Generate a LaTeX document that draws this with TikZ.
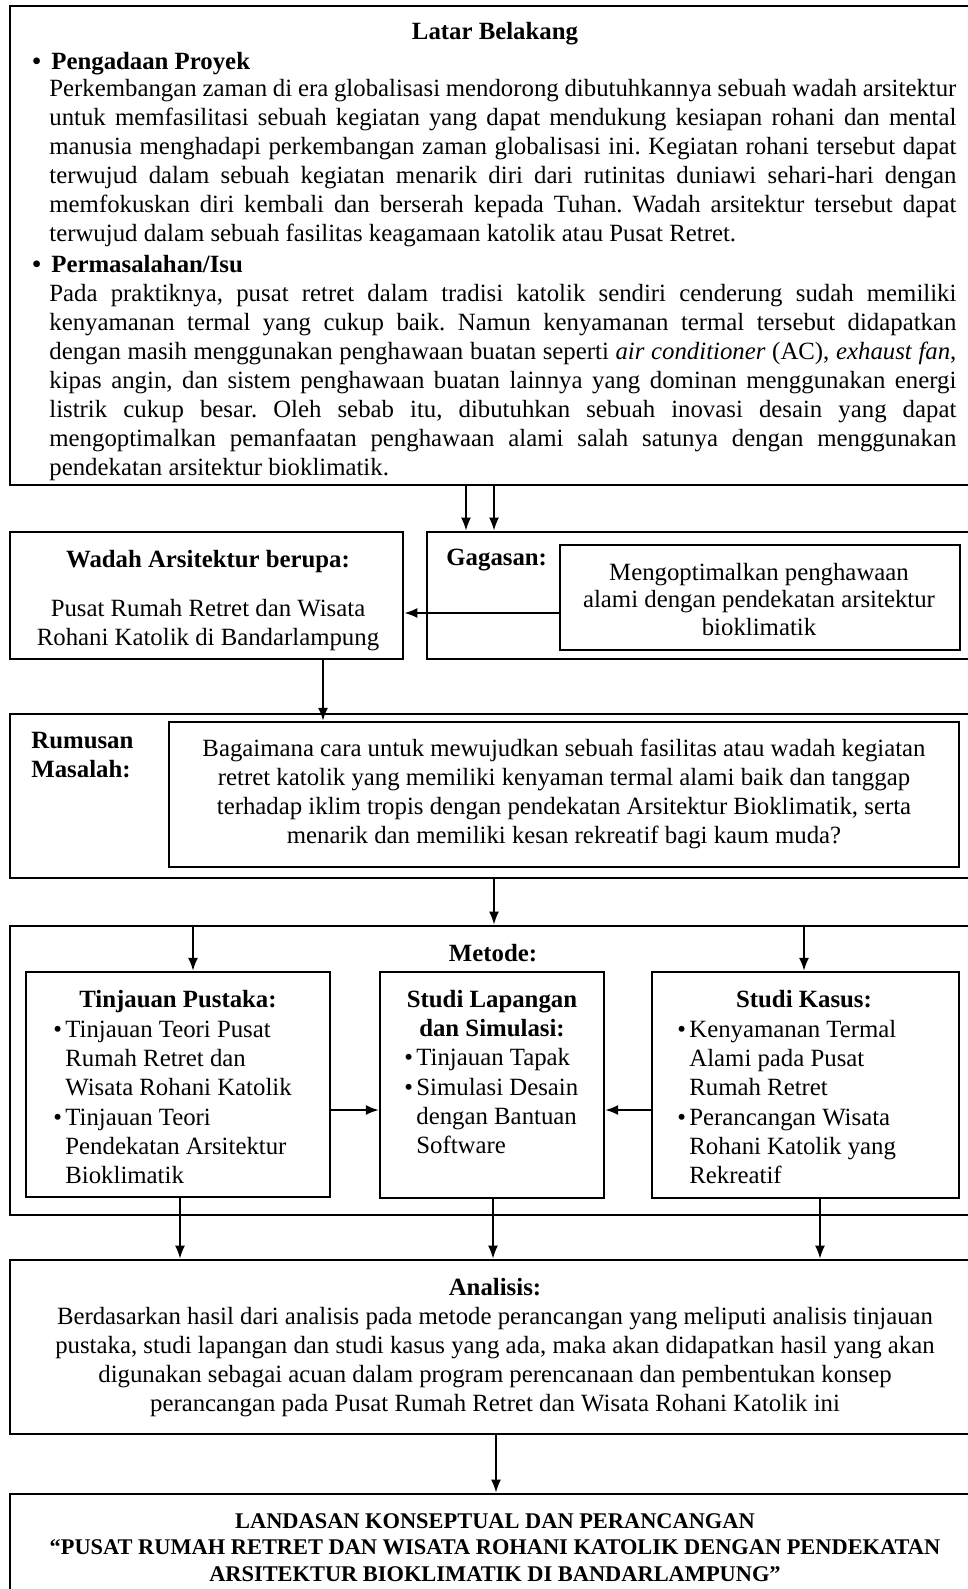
\documentclass[tikz,border=0pt]{standalone}
\usepackage{fontspec}
\setmainfont{Liberation Serif}
\usetikzlibrary{arrows.meta,fit}

% body text: 12.4pt on a 14.5pt baseline
\newcommand\bodysize{\fontsize{12.4}{14.5}\selectfont\frenchspacing}
% one fully justified line of the background paragraphs
\newcommand\jline[1]{{\spaceskip=0.25em plus 0.6em minus 0.15em\xspaceskip=\spaceskip
  \makebox[453.5pt][s]{#1}}}
% bullet with a fixed hanging width
\newcommand\itm[1][6pt]{\makebox[#1][l]{\textbullet}}

\tikzset{
  outerbox/.style={draw, line width=1.3pt, inner sep=0pt},
  innerbox/.style={draw, line width=1.1pt, inner sep=0pt},
  arr/.style={line width=1pt, -{Latex[length=6.5pt,width=5pt]}},
  txt/.style={inner sep=0pt, font=\bodysize},
  head/.style={inner sep=0pt, font=\bodysize\bfseries},
}

\begin{document}
\begin{tikzpicture}[x=0.5pt, y=-0.5pt]
\useasboundingbox (0,0) rectangle (968,1589);
\clip (0,0) rectangle (968,1589);

% ---------------- Latar Belakang ----------------
\node[outerbox, fit={(10,6) (990,485)}] (latar) {};
\node[head, anchor=base] (latarT) at (495,40) {Latar Belakang};
\node[head, anchor=base west] (b1) at (32,70) {\itm[9.5pt]Pengadaan Proyek};
\node[txt, text width=453.5pt, align=flush left, anchor=base west] (p1) at (49,97) {%
\jline{Perkembangan zaman di era globalisasi mendorong dibutuhkannya sebuah wadah arsitektur}\\
\jline{untuk memfasilitasi sebuah kegiatan yang dapat mendukung kesiapan rohani dan mental}\\
\jline{manusia menghadapi perkembangan zaman globalisasi ini. Kegiatan rohani tersebut dapat}\\
\jline{terwujud dalam sebuah kegiatan menarik diri dari rutinitas duniawi sehari-hari dengan}\\
\jline{memfokuskan diri kembali dan berserah kepada Tuhan. Wadah arsitektur tersebut dapat}\\
terwujud dalam sebuah fasilitas keagamaan katolik atau Pusat Retret.};
\node[head, anchor=base west] (b2) at (32,272) {\itm[9.5pt]Permasalahan/Isu};
\node[txt, text width=453.5pt, align=flush left, anchor=base west] (p2) at (49,301) {%
\jline{Pada praktiknya, pusat retret dalam tradisi katolik sendiri cenderung sudah memiliki}\\
\jline{kenyamanan termal yang cukup baik. Namun kenyamanan termal tersebut didapatkan}\\
\jline{dengan masih menggunakan penghawaan buatan seperti \textit{air conditioner} (AC), \textit{exhaust fan},}\\
\jline{kipas angin, dan sistem penghawaan buatan lainnya yang dominan menggunakan energi}\\
\jline{listrik cukup besar. Oleh sebab itu, dibutuhkan sebuah inovasi desain yang dapat}\\
\jline{mengoptimalkan pemanfaatan penghawaan alami salah satunya dengan menggunakan}\\
pendekatan arsitektur bioklimatik.};

% ---------------- Wadah / Gagasan ----------------
\node[outerbox, fit={(10,532) (403,659)}] (wadah) {};
\node[head, anchor=base] (wadahT) at (208,567) {Wadah Arsitektur berupa:};
\node[txt, text width=190pt, align=flush center, anchor=base] (wadahX) at (208,616)
  {Pusat Rumah Retret dan Wisata\\Rohani Katolik di Bandarlampung};

\node[outerbox, fit={(427,532) (990,659)}] (gagasan) {};
\node[head, anchor=base west] (gagasanT) at (446,565) {Gagasan:};
\node[innerbox, fit={(560,545) (960,650)}] (gagIn) {};
\node[txt, font=\fontsize{12.4}{13.9}\selectfont\frenchspacing, text width=195pt, align=flush center, anchor=base] (gagX) at (759,580)
  {Mengoptimalkan penghawaan\\alami dengan pendekatan arsitektur\\bioklimatik};

\coordinate (xa) at (466,0);
\coordinate (xb) at (494,0);
\draw[arr] (xa |- latar.south) -- (xa |- gagasan.north);
\draw[arr] (xb |- latar.south) -- (xb |- gagasan.north);
\coordinate (yg) at (0,613);
\draw[arr] (yg -| gagIn.west) -- (yg -| wadah.east);

% ---------------- Rumusan Masalah ----------------
\node[outerbox, fit={(10,714) (990,878)}] (rumusan) {};
\node[head, text width=70pt, align=flush left, anchor=base west] (rumT) at (31,748) {Rumusan\\Masalah:};
\node[innerbox, fit={(169,722) (959,867)}] (rumIn) {};
\node[txt, text width=390pt, align=flush center, anchor=base] (rumX) at (564,756)
  {Bagaimana cara untuk mewujudkan sebuah fasilitas atau wadah kegiatan\\
   retret katolik yang memiliki kenyaman termal alami baik dan tanggap\\
   terhadap iklim tropis dengan pendekatan Arsitektur Bioklimatik, serta\\
   menarik dan memiliki kesan rekreatif bagi kaum muda?};

\coordinate (xw) at (323,0);
\draw[arr] (xw |- wadah.south) -- (xw |- rumIn.north);

% ---------------- Metode ----------------
\node[outerbox, fit={(10,926) (990,1215)}] (metode) {};
\node[head, anchor=base] (metodeT) at (493,961) {Metode:};
\coordinate (xm) at (494,0);
\draw[arr] (xm |- rumusan.south) -- (xm |- metode.north);

\node[innerbox, fit={(26,972) (330,1197)}] (tp) {};
\node[innerbox, fit={(380,972) (604,1198)}] (sl) {};
\node[innerbox, fit={(652,972) (959,1198)}] (sk) {};

\node[head, anchor=base] (tpT) at (178,1007) {Tinjauan Pustaka:};
\node[txt, text width=140pt, align=flush left, anchor=base west] (tpX) at (53,1037)
  {\itm Tinjauan Teori Pusat\\
   \hspace*{6pt}Rumah Retret dan\\
   \hspace*{6pt}Wisata Rohani Katolik\\[0.6pt]
   \itm Tinjauan Teori\\
   \hspace*{6pt}Pendekatan Arsitektur\\
   \hspace*{6pt}Bioklimatik};

\node[head, text width=110pt, align=flush center, anchor=base] (slT) at (492,1007)
  {Studi Lapangan\\dan Simulasi:};
\node[txt, text width=105pt, align=flush left, anchor=base west] (slX) at (404,1065)
  {\itm Tinjauan Tapak\\[0.8pt]
   \itm Simulasi Desain\\
   \hspace*{6pt}dengan Bantuan\\
   \hspace*{6pt}Software};

\node[head, anchor=base] (skT) at (804,1007) {Studi Kasus:};
\node[txt, text width=140pt, align=flush left, anchor=base west] (skX) at (677,1037)
  {\itm Kenyamanan Termal\\
   \hspace*{6pt}Alami pada Pusat\\
   \hspace*{6pt}Rumah Retret\\[0.6pt]
   \itm Perancangan Wisata\\
   \hspace*{6pt}Rohani Katolik yang\\
   \hspace*{6pt}Rekreatif};

\coordinate (xt) at (193,0);
\coordinate (xk) at (804,0);
\draw[arr] (xt |- metode.north) -- (xt |- tp.north);
\draw[arr] (xk |- metode.north) -- (xk |- sk.north);
\coordinate (ym) at (0,1110);
\draw[arr] (ym -| tp.east) -- (ym -| sl.west);
\draw[arr] (ym -| sk.west) -- (ym -| sl.east);

% ---------------- Analisis ----------------
\node[outerbox, fit={(10,1260) (990,1434)}] (analisis) {};
\node[head, anchor=base] (anaT) at (495,1295) {Analisis:};
\node[txt, text width=470pt, align=flush center, anchor=base] (anaX) at (495,1324)
  {Berdasarkan hasil dari analisis pada metode perancangan yang meliputi analisis tinjauan\\
   pustaka, studi lapangan dan studi kasus yang ada, maka akan didapatkan hasil yang akan\\
   digunakan sebagai acuan dalam program perencanaan dan pembentukan konsep\\
   perancangan pada Pusat Rumah Retret dan Wisata Rohani Katolik ini};

\coordinate (x1) at (180,0);
\coordinate (x2) at (493,0);
\coordinate (x3) at (820,0);
\draw[arr] (x1 |- tp.south) -- (x1 |- analisis.north);
\draw[arr] (x2 |- sl.south) -- (x2 |- analisis.north);
\draw[arr] (x3 |- sk.south) -- (x3 |- analisis.north);

% ---------------- Landasan ----------------
\node[outerbox, fit={(10,1494) (990,1620)}] (landasan) {};
\node[inner sep=0pt, font=\fontsize{11.2}{13.25}\selectfont\bfseries\frenchspacing, text width=470pt, align=flush center, anchor=base] (landX) at (495,1528)
  {LANDASAN KONSEPTUAL DAN PERANCANGAN\\
   “PUSAT RUMAH RETRET DAN WISATA ROHANI KATOLIK DENGAN PENDEKATAN\\
   ARSITEKTUR BIOKLIMATIK DI BANDARLAMPUNG”};
\coordinate (xl) at (496,0);
\draw[arr] (xl |- analisis.south) -- (xl |- landasan.north);
\end{tikzpicture}
\end{document}
